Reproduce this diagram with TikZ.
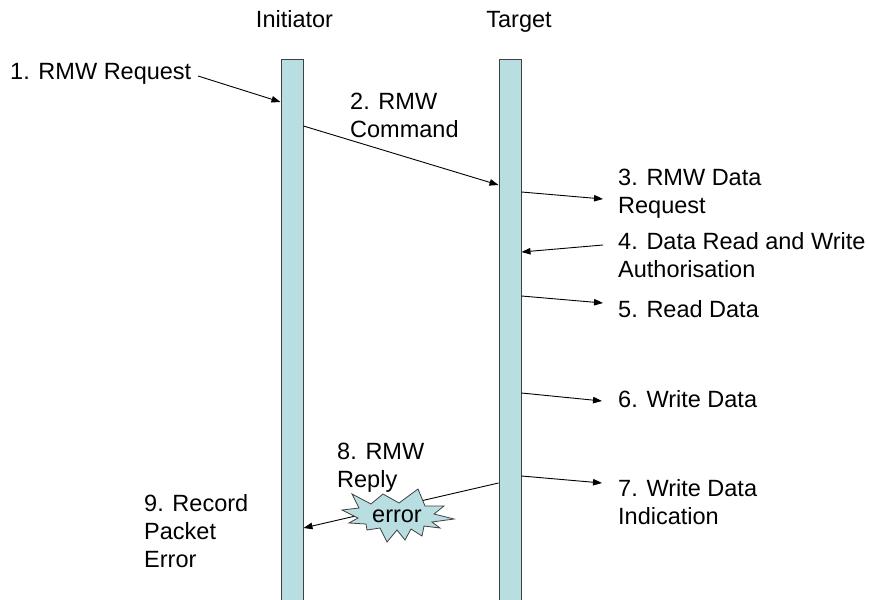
\documentclass[tikz,border=0pt]{standalone}
\usepackage{fontspec}
\setmainfont{Liberation Sans}
\usetikzlibrary{arrows.meta}
\definecolor{barfill}{RGB}{185,222,226}
\definecolor{barline}{RGB}{64,64,64}
\tikzset{
  lifebar/.style={draw=barline, line width=1pt, fill=barfill, minimum width=22pt, minimum height=552pt, anchor=north, inner sep=0pt},
  lbl/.style={anchor=base west, align=left, inner sep=0pt, font=\fontsize{23.5}{28}\selectfont},
  hdr/.style={anchor=base, inner sep=0pt, font=\fontsize{23.5}{28}\selectfont},
  msg/.style={line width=0.9pt, -{Triangle[length=9pt,width=6.5pt]}},
  burst/.style={draw=barline, line width=0.8pt, fill=barfill, line join=miter},
}
\begin{document}
\begin{tikzpicture}[x=1pt,y=-1pt]
\useasboundingbox (0,0) rectangle (869,599);
% lifelines
\node[lifebar] (init) at (292,59) {};
\node[lifebar] (targ) at (510,59) {};
\node[hdr] (hinit) at (294.5,28) {Initiator};
\node[hdr] (htarg) at (519,28) {Target};
% labels (anchored at the baseline of the last line)
\node[lbl] (l1) at (10,80) {1. RMW Request};
\node[lbl] (l2) at (350,137) {2. RMW\\Command};
\node[lbl] (l3) at (618,213) {3. RMW Data\\Request};
\node[lbl] (l4) at (618,277) {4. Data Read and Write\\Authorisation};
\node[lbl] (l5) at (618,317) {5. Read Data};
\node[lbl] (l6) at (618,407) {6. Write Data};
\node[lbl] (l7) at (618,524) {7. Write Data\\Indication};
\node[lbl] (l8) at (337,487) {8. RMW\\Reply};
\node[lbl] (l9) at (144,567) {9. Record\\Packet\\Error};
% connector end points
\coordinate (s1) at (198,76);
\coordinate (e1) at (init.west |- 0,102);
\coordinate (s2) at (init.east |- 0,126);
\coordinate (e2) at (targ.west |- 0,185);
\coordinate (s3) at (targ.east |- 0,192);
\coordinate (e3) at (603,199);
\coordinate (s4) at (603,245);
\coordinate (e4) at (targ.east |- 0,252);
\coordinate (s5) at (targ.east |- 0,296);
\coordinate (e5) at (603,303);
\coordinate (s6) at (targ.east |- 0,393);
\coordinate (e6) at (602,401);
\coordinate (s7) at (targ.east |- 0,476);
\coordinate (e7) at (602,483);
\coordinate (s8) at (targ.west |- 0,483);
\coordinate (e8) at (init.east |- 0,528);
% messages
\draw[msg] (s1) -- (e1);
\draw[msg] (s2) -- (e2);
\draw[msg] (s3) -- (e3);
\draw[msg] (s4) -- (e4);
\draw[msg] (s5) -- (e5);
\draw[msg] (s6) -- (e6);
\draw[msg] (s7) -- (e7);
\draw[msg] (s8) -- (e8);
% error burst
\coordinate (errc) at (397,516);
\draw[burst]
  ([shift={(-55,-6)}]errc) -- ([shift={(-38,-8)}]errc) --
  ([shift={(-45,-22)}]errc) -- ([shift={(-26,-12)}]errc) --
  ([shift={(-14,-22)}]errc) -- ([shift={(2,-13)}]errc) --
  ([shift={(21,-27)}]errc) -- ([shift={(28,-10)}]errc) --
  ([shift={(47,-10)}]errc) -- ([shift={(37,-2)}]errc) --
  ([shift={(57,3)}]errc) -- ([shift={(35,6)}]errc) --
  ([shift={(43,12)}]errc) -- ([shift={(27,10)}]errc) --
  ([shift={(25,20)}]errc) -- ([shift={(14,13)}]errc) --
  ([shift={(8,24)}]errc) -- ([shift={(0,14)}]errc) --
  ([shift={(-10,26)}]errc) -- ([shift={(-17,12)}]errc) --
  ([shift={(-30,14)}]errc) -- ([shift={(-31,8)}]errc) --
  ([shift={(-48,7)}]errc) -- ([shift={(-39,2)}]errc) -- cycle;
\node[inner sep=0pt, font=\fontsize{23.5}{28}\selectfont] (err) at (errc) {error};
\end{tikzpicture}
\end{document}
